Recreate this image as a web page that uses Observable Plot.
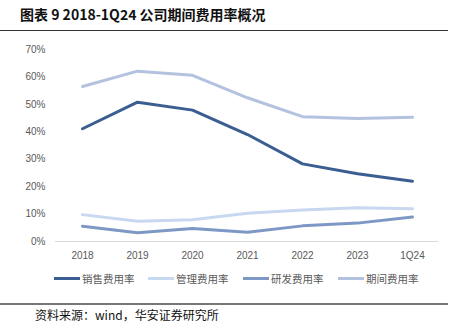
<!DOCTYPE html>
<html><head><meta charset="utf-8">
<script src="https://cdn.jsdelivr.net/npm/d3@7"></script>
<script src="https://cdn.jsdelivr.net/npm/@observablehq/plot@0.6"></script>
<style>
html,body{margin:0;padding:0;background:#fff;}
#wrap{position:relative;width:460px;height:322px;overflow:hidden;font-family:"Noto Sans CJK SC","Noto Sans",sans-serif;}
#title{position:absolute;left:20px;top:4px;font-size:14px;font-weight:bold;color:#111;white-space:nowrap;}
.rule{position:absolute;left:0;width:448px;}
#chart{position:absolute;left:0;top:40px;}
#legend{position:absolute;top:271px;left:0;width:460px;height:16px;font-size:10.5px;color:#595959;}
.item{position:absolute;top:0;display:flex;align-items:center;white-space:nowrap;}
.sw{display:inline-block;width:26px;height:3px;margin-right:2px;}
#source{position:absolute;left:35px;top:308px;font-size:12px;line-height:13px;color:#111;white-space:nowrap;}
</style></head>
<body><div id="wrap">
<div id="title">图表 9 2018-1Q24 公司期间费用率概况</div>
<div class="rule" style="top:30px;height:1px;background:#333;"></div>
<div id="chart"></div>
<div id="legend"></div>
<div class="rule" style="top:303px;height:2px;background:#777;"></div>
<div id="source">资料来源：wind，华安证券研究所</div>
</div>
<script>
const periods = ["2018","2019","2020","2021","2022","2023","1Q24"];
const seriesNames = ["销售费用率","管理费用率","研发费用率","期间费用率"];
const sales = [41.1, 50.8, 47.9, 39.0, 28.3, 24.7, 22.0];
const admin = [9.8, 7.4, 7.9, 10.3, 11.5, 12.3, 11.9];
const rnd = [5.6, 3.2, 4.7, 3.4, 5.7, 6.7, 8.9];
const total = [56.5, 62.1, 60.6, 52.4, 45.5, 44.8, 45.3];
const colors = ["#3B5E92", "#C8D8F0", "#7E98C6", "#B3C2DE"];
const yTicks = [0, 10, 20, 30, 40, 50, 60, 70];

const allVals = [sales, admin, rnd, total];
const data = [];
seriesNames.forEach((s, i) => periods.forEach((p, j) => data.push({series: s, period: p, value: allVals[i][j]})));

const chart = Plot.plot({
  width: 460, height: 230,
  marginLeft: 55, marginRight: 22, marginTop: 9, marginBottom: 29,
  style: {fontFamily: "'Liberation Sans', Arial, sans-serif", fontSize: "10px", color: "#595959", background: "transparent"},
  x: {type: "point", domain: periods, padding: 0.48, label: null, tickSize: 0, tickPadding: 10},
  y: {domain: [0, 70], ticks: yTicks, tickFormat: d => d + "%", label: null, tickSize: 0, tickPadding: 10},
  color: {domain: seriesNames, range: colors},
  marks: [
    Plot.ruleY([0], {stroke: "#D9D9D9", strokeWidth: 1}),
    Plot.lineY(data.filter(d => d.series !== "销售费用率"), {x: "period", y: "value", z: "series", stroke: "series", strokeWidth: 3, strokeLinejoin: "round", strokeLinecap: "round"}),
    Plot.lineY(data.filter(d => d.series === "销售费用率"), {x: "period", y: "value", z: "series", stroke: "series", strokeWidth: 3, strokeLinejoin: "round", strokeLinecap: "round"})
  ]
});
document.getElementById("chart").appendChild(chart);

const legendX = [54, 148, 243, 338];
const legend = document.getElementById("legend");
seriesNames.forEach((s, i) => {
  const it = document.createElement("div");
  it.className = "item";
  it.style.left = legendX[i] + "px";
  it.innerHTML = `<span class="sw" style="background:${colors[i]}"></span><span>${s}</span>`;
  legend.appendChild(it);
});
</script>
</body></html>
